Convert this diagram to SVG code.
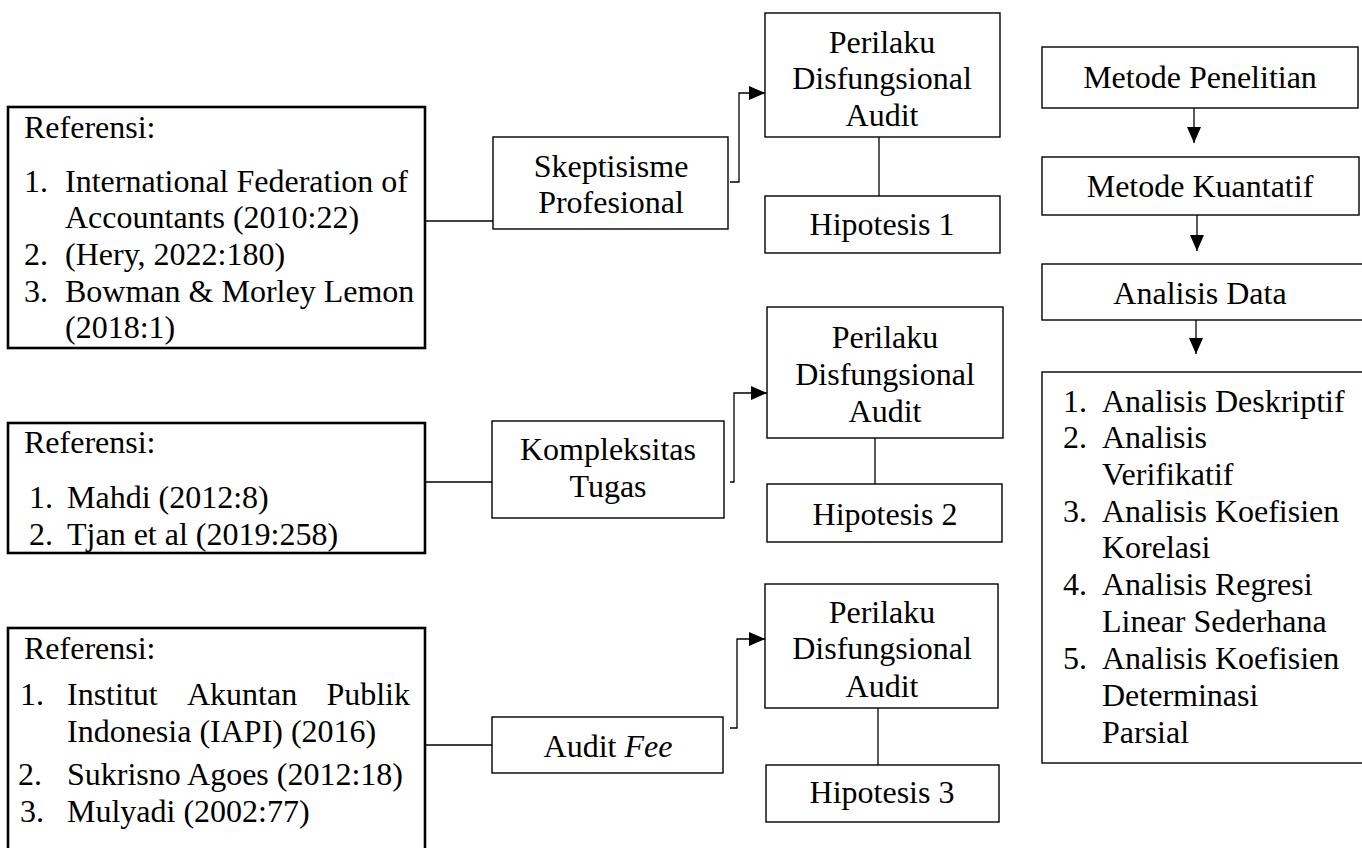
<svg xmlns="http://www.w3.org/2000/svg" width="1362" height="848" viewBox="0 0 1362 848">
<style>
  text { font-family: "Liberation Serif", "Times New Roman", serif; font-size: 32px; fill: #000; }
  .c { text-anchor: middle; }
  .box { fill: #fff; stroke: #000; stroke-width: 1.4; }
  .ref { fill: #fff; stroke: #000; stroke-width: 2.6; }
  .ln { fill: none; stroke: #000; stroke-width: 1.3; }
</style>
<defs>
  <marker id="arr" markerUnits="userSpaceOnUse" markerWidth="16" markerHeight="14" refX="16" refY="7" orient="auto">
    <path d="M0,0 L16,7 L0,14 z" fill="#000"/>
  </marker>
</defs>
<rect width="1362" height="848" fill="#fff"/>

<g id="connectors">
  <path class="ln" d="M425,221 H493"/>
  <path class="ln" d="M730,182 H739 V93 H765" marker-end="url(#arr)"/>
  <path class="ln" d="M879,137 V196"/>
  <path class="ln" d="M1194,108 V143" marker-end="url(#arr)"/>
  <path class="ln" d="M1197,215 V251" marker-end="url(#arr)"/>
  <path class="ln" d="M1196,320 V354" marker-end="url(#arr)"/>
  <path class="ln" d="M425,482 H492"/>
  <path class="ln" d="M730,482 H734 V393 H767" marker-end="url(#arr)"/>
  <path class="ln" d="M875,438 V484"/>
  <path class="ln" d="M425,745 H492"/>
  <path class="ln" d="M730,728 H737 V639 H765" marker-end="url(#arr)"/>
  <path class="ln" d="M878,708 V765"/>
</g>

<g id="ref1">
  <rect class="ref" x="8" y="107" width="417" height="241"/>
  <text x="24" y="138">Referensi:</text>
  <text x="24" y="192">1.</text><text x="65" y="192">International Federation of</text>
  <text x="65" y="228">Accountants (2010:22)</text>
  <text x="24" y="265">2.</text><text x="65" y="265">(Hery, 2022:180)</text>
  <text x="24" y="302">3.</text><text x="65" y="302">Bowman &amp; Morley Lemon</text>
  <text x="65" y="338">(2018:1)</text>
</g>

<g id="skeptisisme">
  <rect class="box" x="493" y="137" width="235" height="92"/>
  <text class="c" x="611" y="177">Skeptisisme</text>
  <text class="c" x="611" y="213">Profesional</text>
</g>

<g id="perilaku1">
  <rect class="box" x="765" y="13" width="235" height="124"/>
  <text class="c" x="882" y="53">Perilaku</text>
  <text class="c" x="882" y="89">Disfungsional</text>
  <text class="c" x="882" y="126">Audit</text>
</g>

<g id="hipotesis1">
  <rect class="box" x="765" y="196" width="235" height="57"/>
  <text class="c" x="882" y="235">Hipotesis 1</text>
</g>

<g id="metode-penelitian">
  <rect class="box" x="1042" y="47" width="316" height="61"/>
  <text class="c" x="1200" y="88">Metode Penelitian</text>
</g>

<g id="metode-kuantatif">
  <rect class="box" x="1042" y="157" width="317" height="58"/>
  <text class="c" x="1200" y="197">Metode Kuantatif</text>
</g>

<g id="analisis-data">
  <rect class="box" x="1042" y="264" width="330" height="56"/>
  <text class="c" x="1200" y="304">Analisis Data</text>
</g>

<g id="analisis-list">
  <rect class="box" x="1042" y="372" width="330" height="391"/>
  <text x="1063" y="412">1.</text><text x="1102" y="412">Analisis Deskriptif</text>
  <text x="1063" y="448">2.</text><text x="1102" y="448">Analisis</text>
  <text x="1102" y="485">Verifikatif</text>
  <text x="1063" y="522">3.</text><text x="1102" y="522">Analisis Koefisien</text>
  <text x="1102" y="558">Korelasi</text>
  <text x="1063" y="595">4.</text><text x="1102" y="595">Analisis Regresi</text>
  <text x="1102" y="632">Linear Sederhana</text>
  <text x="1063" y="669">5.</text><text x="1102" y="669">Analisis Koefisien</text>
  <text x="1102" y="706">Determinasi</text>
  <text x="1102" y="743">Parsial</text>
</g>

<g id="ref2">
  <rect class="ref" x="8" y="423" width="417" height="130"/>
  <text x="24" y="453">Referensi:</text>
  <text x="29" y="508">1.</text><text x="67" y="508">Mahdi (2012:8)</text>
  <text x="29" y="545">2.</text><text x="67" y="545">Tjan et al (2019:258)</text>
</g>

<g id="kompleksitas">
  <rect class="box" x="492" y="421" width="232" height="97"/>
  <text class="c" x="608" y="460">Kompleksitas</text>
  <text class="c" x="608" y="497">Tugas</text>
</g>

<g id="perilaku2">
  <rect class="box" x="767" y="307" width="236" height="131"/>
  <text class="c" x="885" y="348">Perilaku</text>
  <text class="c" x="885" y="385">Disfungsional</text>
  <text class="c" x="885" y="422">Audit</text>
</g>

<g id="hipotesis2">
  <rect class="box" x="767" y="484" width="235" height="58"/>
  <text class="c" x="885" y="525">Hipotesis 2</text>
</g>

<g id="ref3">
  <rect class="ref" x="8" y="628" width="417" height="230"/>
  <text x="24" y="659">Referensi:</text>
  <text x="20" y="705">1.</text>
  <text x="67" y="705">Institut</text>
  <text x="187" y="705">Akuntan</text>
  <text x="410" y="705" text-anchor="end">Publik</text>
  <text x="67" y="742">Indonesia (IAPI) (2016)</text>
  <text x="18" y="785">2.</text><text x="67" y="785">Sukrisno Agoes (2012:18)</text>
  <text x="20" y="822">3.</text><text x="67" y="822">Mulyadi (2002:77)</text>
</g>

<g id="audit-fee">
  <rect class="box" x="492" y="717" width="231" height="56"/>
  <text class="c" x="608" y="757">Audit <tspan font-style="italic">Fee</tspan></text>
</g>

<g id="perilaku3">
  <rect class="box" x="765" y="584" width="233" height="124"/>
  <text class="c" x="882" y="623">Perilaku</text>
  <text class="c" x="882" y="659">Disfungsional</text>
  <text class="c" x="882" y="697">Audit</text>
</g>

<g id="hipotesis3">
  <rect class="box" x="766" y="765" width="233" height="57"/>
  <text class="c" x="882" y="803">Hipotesis 3</text>
</g>
</svg>
